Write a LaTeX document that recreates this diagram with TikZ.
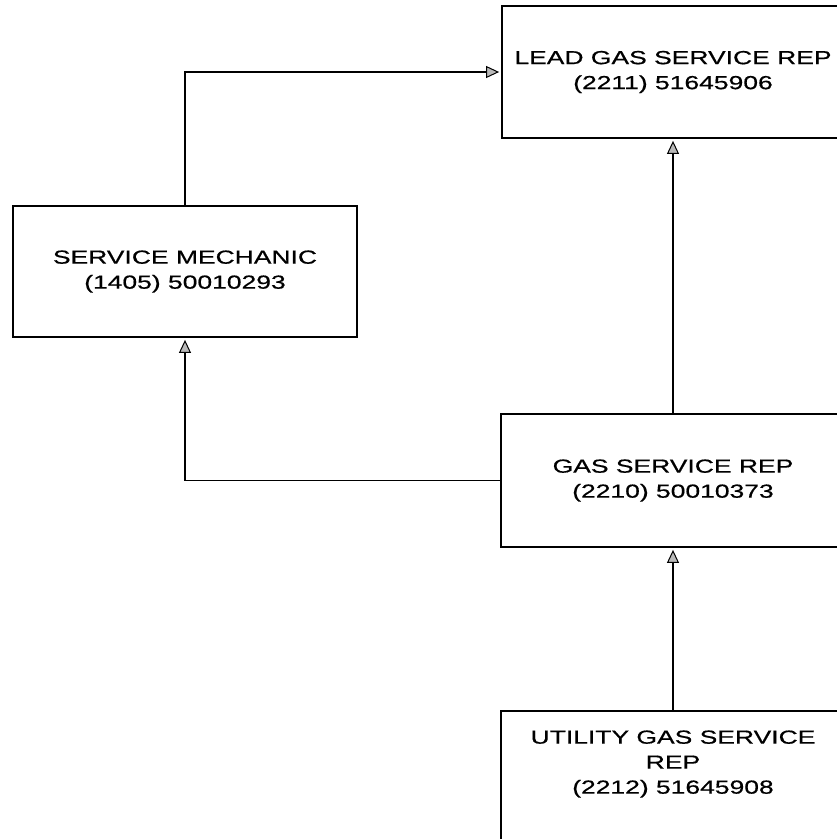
\documentclass[tikz,border=0pt]{standalone}
\usepackage{fontspec}
\setmainfont[FakeStretch=1.4,FakeBold=0.6]{Liberation Sans}
\usetikzlibrary{arrows.meta}
\begin{document}
\begin{tikzpicture}[x=1pt,y=-1pt,
  box/.style={draw, line width=1.8pt, rectangle, inner sep=0pt},
  txt/.style={align=center, font=\fontsize{18.9}{25}\selectfont, inner sep=0pt},
  conn/.style={line width=1.2pt, -{Triangle[length=13pt,width=12pt,fill=gray!55,line width=1pt]}, shorten >=2pt}]
\useasboundingbox (0,0) rectangle (837,839);
\node[box, txt, minimum width=342pt, minimum height=132pt] (lead) at (673,72)
  {LEAD GAS SERVICE REP\\(2211) 51645906};
\node[box, txt, minimum width=344pt, minimum height=131pt] (sm) at (185,271.5)
  {SERVICE MECHANIC\\(1405) 50010293};
\node[box, txt, minimum width=344pt, minimum height=133pt] (gas) at (673,480.5)
  {GAS SERVICE REP\\(2210) 50010373};
\node[box, minimum width=344pt, minimum height=140pt, anchor=north] (util) at (673,710) {};
\node[txt] (utiltext) at (673,764) {UTILITY GAS SERVICE\\REP\\(2212) 51645908};
\draw[conn] (sm.north) |- (lead.west);
\draw[conn] (gas.north) -- (lead.south);
\draw[conn] (gas.west) -| (sm.south);
\draw[conn] (util.north) -- (gas.south);
\end{tikzpicture}
\end{document}
